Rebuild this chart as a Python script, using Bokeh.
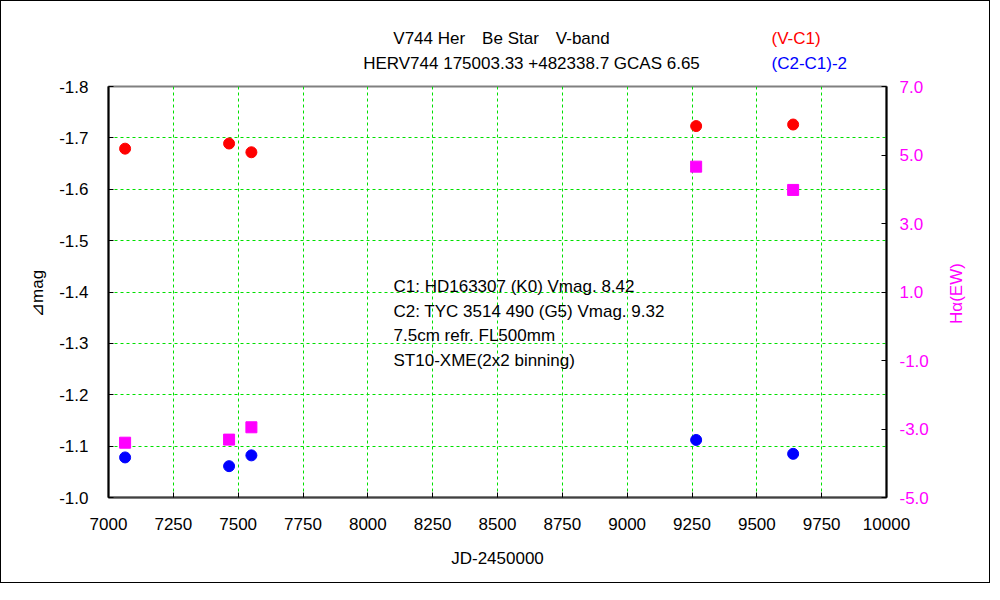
import math
from bokeh.plotting import figure
from bokeh.models import Range1d, LinearAxis, FixedTicker, Label, PrintfTickFormatter
from bokeh.embed import file_html
from bokeh.resources import INLINE

# ---------------- data ----------------
jd = [7064, 7465, 7551, 9266, 9640]
v_c1 = [-1.679, -1.689, -1.672, -1.723, -1.726]
c2_c1_2 = [-1.078, -1.061, -1.082, -1.112, -1.085]
ha_ew = [-3.40, -3.31, -2.95, 4.66, 3.98]

x_ticks = [7000, 7250, 7500, 7750, 8000, 8250, 8500, 8750, 9000, 9250, 9500, 9750, 10000]
mag_ticks = [-1.8, -1.7, -1.6, -1.5, -1.4, -1.3, -1.2, -1.1, -1.0]
ew_ticks = [7.0, 5.0, 3.0, 1.0, -1.0, -3.0, -5.0]

title_lines = ["V744 Her\u3000Be Star\u3000V-band",
               "HERV744 175003.33 +482338.7 GCAS 6.65"]
legend_lines = ["(V-C1)", "(C2-C1)-2"]
note_lines = ["C1: HD163307 (K0) Vmag. 8.42",
              "C2: TYC 3514 490 (G5) Vmag. 9.32",
              "7.5cm refr. FL500mm",
              "ST10-XME(2x2 binning)"]
x_label = "JD-2450000"
y_label = "\u22bfmag"
y2_label = "H\u03b1(EW)"

# ---------------- layout ----------------
FONT = "Liberation Sans, DejaVu Sans, Noto Sans CJK JP"
FS = "17px"
X0, X1 = 7000, 10000
Y0, Y1 = -1.8, -1.0
FL, FR, FT, FB = 108, 886, 87, 498  # wanted frame edges in page pixels
CX, CY = 1, 2                          # apparent canvas origin in page pixels
CW, CH = 988, 581
FW, FH = FR - FL, FB - FT

p = figure(frame_width=FW, frame_height=FH,
           min_border_left=FL - CX, min_border_right=CW - (FR - CX),
           min_border_top=FT - CY, min_border_bottom=CH - (FB - CY),
           x_range=Range1d(X0, X1), y_range=Range1d(Y1, Y0),
           output_backend="svg", toolbar_location=None)
p.extra_y_ranges = {"ew": Range1d(-5.0, 7.0)}
p.styles = {"border": "1px solid black"}
p.background_fill_color = "white"
p.border_fill_color = "white"
p.outline_line_color = "#808080"
p.outline_line_width = 2

GREEN = "#00e000"
for g in (p.xgrid[0], p.ygrid[0]):
    g.grid_line_color = GREEN
    g.grid_line_dash = "3 3"
    g.grid_line_width = 1

xa = p.xaxis[0]
xa.ticker = FixedTicker(ticks=x_ticks)
ya = p.yaxis[0]
ya.ticker = FixedTicker(ticks=mag_ticks)
ya.formatter = PrintfTickFormatter(format="%.1f")

ra = LinearAxis(y_range_name="ew", ticker=FixedTicker(ticks=ew_ticks),
                formatter=PrintfTickFormatter(format="%.1f"))
p.add_layout(ra, "right")

for ax, col, standoff in ((xa, "black", 20), (ya, "black", 20), (ra, "#ff00ff", 13)):
    ax.major_tick_in = 5
    ax.major_tick_out = 0
    ax.minor_tick_line_color = None
    ax.axis_line_width = 2
    ax.axis_line_color = "black"
    ax.major_tick_line_color = "black"
    ax.major_label_text_font = FONT
    ax.major_label_text_font_size = FS
    ax.major_label_text_color = col
    ax.major_label_standoff = standoff
xa.axis_line_color = "#404040"

# ---------------- marks ----------------
p.scatter(jd, v_c1, marker="circle", size=11, color="#ff0000")
p.scatter(jd, c2_c1_2, marker="circle", size=11, color="#0000ff")
p.scatter(jd, ha_ew, marker="square", size=11, color="#ff00ff", y_range_name="ew")

# ---------------- texts (canvas units, y down) ----------------
def add_text(txt, px, py, align="left", color="black", angle=0.0, place="center",
             size=FS):
    lab = Label(x=px - CX, y=py - CY, x_units="canvas", y_units="canvas",
                text=txt, text_align=align,
                text_baseline="middle", text_color=color, angle=angle,
                text_font=FONT, text_font_size=size)
    if place == "center":
        p.add_layout(lab)
    else:
        p.add_layout(lab, place)

add_text(title_lines[0], 500, 38, align="center", place="above")
add_text(title_lines[1], 530, 63, align="center", place="above")
add_text(legend_lines[0], 770, 38, color="#ff0000", place="above")
add_text(legend_lines[1], 770, 63, color="#0000ff", place="above")
for i, line in enumerate(note_lines):
    add_text(line, 392, 286 + i * 24.5)
add_text(x_label, 496, 558, align="center", place="below")
add_text(y_label, 36, 293, align="center", angle=math.pi / 2, place="left")
add_text(y2_label, 955, 293, align="center", color="#ff00ff", angle=math.pi / 2, place="right")

open("out.html", "w").write(file_html(p, INLINE))
